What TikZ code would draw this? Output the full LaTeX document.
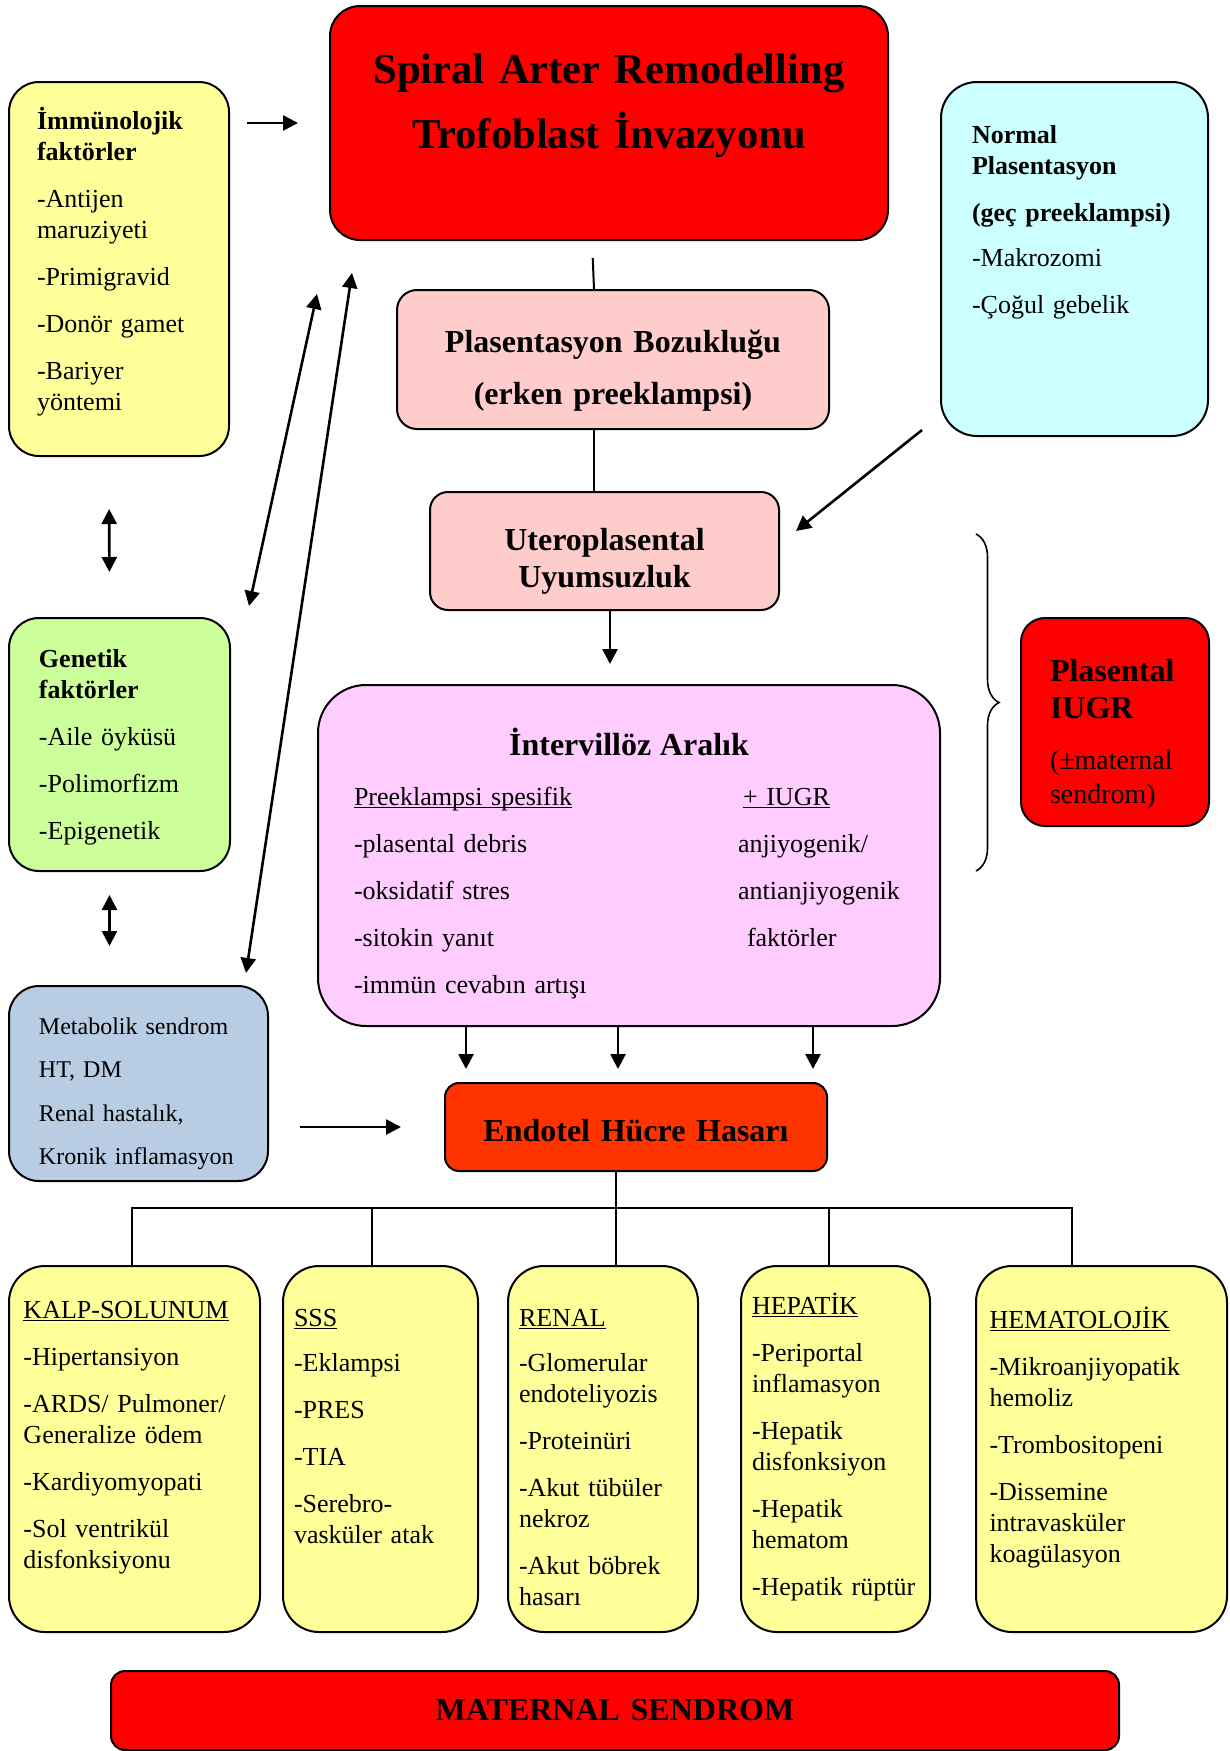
\documentclass[tikz,border=0pt]{standalone}
\usepackage{fontspec}
\setmainfont{Liberation Serif}
\usepackage{tikz}
\usetikzlibrary{positioning, arrows.meta, decorations.pathreplacing}

\definecolor{SariAcik}{RGB}{255,255,153}
\definecolor{CamGobegi}{RGB}{204,255,255}
\definecolor{Pembe}{RGB}{255,204,204}
\definecolor{YesilAcik}{RGB}{204,255,153}
\definecolor{Eflatun}{RGB}{255,204,255}
\definecolor{GriMavi}{RGB}{184,204,228}
\definecolor{Turuncu}{RGB}{255,51,0}
\definecolor{Kirmizi}{RGB}{255,0,0}

\newcommand{\govde}{\fontsize{13}{15.5}\selectfont}
\newcommand{\ulin}[1]{\underline{\smash{#1}}}
\hyphenpenalty=10000
\exhyphenpenalty=10000

\begin{document}
\begin{tikzpicture}[
  x=0.5pt, y=-0.5pt,
  %% kutu: metin üstten hizali (text height/depth ile)
  kutu/.style={rectangle, draw=black, line width=1pt, fill=#1,
               inner ysep=0pt, align=left, font=\govde},
  baslik/.style={kutu=#1, inner xsep=0pt, align=center,
                 font=\fontsize{16}{18.4}\selectfont\bfseries},
  alt/.style={kutu=SariAcik, rounded corners=18pt, inner xsep=5.5pt,
              text height=30pt, text depth=153pt},
  ok/.style={-{Triangle[length=7.5pt, width=7.5pt]}, line width=1.3pt},
  ciftok/.style={{Triangle[length=7.5pt, width=7.5pt]}-{Triangle[length=7.5pt, width=7.5pt]},
                 line width=1.3pt},
  cizgi/.style={line width=1pt}
]
\useasboundingbox (0,0) rectangle (1230,1751);

%% ── Ust sira ─────────────────────────────────────────────────────────────
\node[baslik=Kirmizi, rounded corners=15pt, text width=279pt,
      text height=38.5pt, text depth=78.5pt,
      font=\fontsize{21.3}{32.5}\selectfont\bfseries] (spiral) at (609,123)
  {Spiral Arter Remodelling\\Trofoblast İnvazyonu};

\node[kutu=SariAcik, rounded corners=15pt, inner xsep=14pt, text width=82pt,
      text height=23.5pt, text depth=163.5pt] (immun) at (119,269) {%
  \textbf{İmmünolojik}\\\textbf{faktörler}\\[8pt]
  -Antijen\\maruziyeti\\[8pt]
  -Primigravid\\[8pt]
  -Donör~gamet\\[8pt]
  -Bariyer\\yöntemi%
};

\node[kutu=CamGobegi, rounded corners=18pt, inner xsep=15.5pt, text width=102.5pt,
      text height=30.5pt, text depth=146.5pt] (normal) at (1074.5,259) {%
  \textbf{Normal}\\\textbf{Plasentasyon}\\[8pt]
  \textbf{(geç~preeklampsi)}\\[7pt]
  -Makrozomi\\[8pt]
  -Çoğul~gebelik%
};

%% ── Orta kolon ───────────────────────────────────────────────────────────
\node[baslik=Pembe, rounded corners=10pt, text width=216pt,
      text height=31pt, text depth=38.5pt,
      font=\fontsize{16}{26}\selectfont\bfseries] (bozuk) at (613,359.5)
  {Plasentasyon Bozukluğu\\(erken preeklampsi)};

\node[baslik=Pembe, rounded corners=9pt, text width=174.5pt,
      text height=29.3pt, text depth=29.7pt] (utero) at (604.5,551)
  {Uteroplasental\\Uyumsuzluk};

\node[kutu=Eflatun, rounded corners=24pt, inner xsep=18pt, text width=275pt,
      text height=35pt, text depth=135.5pt,
      font=\fontsize{13}{23.5}\selectfont] (interv) at (629,855.5) {%
  \makebox[\linewidth]{\fontsize{16}{18}\selectfont\bfseries İntervillöz Aralık}\\[1.5pt]
  \makebox[192pt][l]{\ulin{Preeklampsi spesifik}}\hspace{2.5pt}\ulin{+ IUGR}\\
  \makebox[192pt][l]{-plasental debris}anjiyogenik/\\
  \makebox[192pt][l]{-oksidatif stres}antianjiyogenik\\
  \makebox[192pt][l]{-sitokin yanıt}\hspace{4.5pt}faktörler\\
  -immün cevabın artışı%
};

\node[baslik=Turuncu, rounded corners=7pt, text width=191pt,
      text height=29pt, text depth=15pt] (endotel) at (636,1127)
  {Endotel Hücre Hasarı};

%% ── Sol kolon ────────────────────────────────────────────────────────────
\node[kutu=YesilAcik, rounded corners=15pt, inner xsep=15pt, text width=80.5pt,
      text height=24.5pt, text depth=102pt] (genetik) at (119.5,744.5) {%
  \textbf{Genetik}\\\textbf{faktörler}\\[8pt]
  -Aile~öyküsü\\[8pt]
  -Polimorfizm\\[8pt]
  -Epigenetik%
};

\node[kutu=GriMavi, rounded corners=15pt, inner xsep=15pt, text width=99.5pt,
      text height=24pt, text depth=73.5pt,
      font=\fontsize{12}{21.8}\selectfont] (metab) at (138.5,1083.5) {%
  Metabolik~sendrom\\HT, DM\\Renal~hastalık,\\Kronik~inflamasyon%
};

%% ── Sag kolon ────────────────────────────────────────────────────────────
\node[kutu=Kirmizi, rounded corners=12pt, inner xsep=14.5pt, text width=65pt,
      text height=31.5pt, text depth=72.5pt,
      font=\fontsize{14}{17}\selectfont] (iugr) at (1115,722) {%
  {\fontsize{16}{18}\selectfont\bfseries Plasental}\\[1.5pt]
  {\fontsize{16}{18}\selectfont\bfseries IUGR}\\[8.5pt]
  (±maternal\\sendrom)%
};

\draw[line width=0.8pt, decorate, decoration={brace, amplitude=11.5pt}]
  (976,534) -- (976,871);

%% ── Organ kutulari ───────────────────────────────────────────────────────
\node[alt, inner xsep=7.25pt, text width=111pt,
      text height=26pt, text depth=157pt] (kalp) at (134.5,1449) {%
  \ulin{KALP-SOLUNUM}\\[8pt]
  -Hipertansiyon\\[8pt]
  -ARDS/~Pulmoner/\\Generalize~ödem\\[8pt]
  -Kardiyomyopati\\[8pt]
  -Sol~ventrikül\\disfonksiyonu%
};

\node[alt, text width=86.5pt, right=10.5pt of kalp] (sss) {%
  \ulin{SSS}\\[7pt]
  -Eklampsi\\[8pt]
  -PRES\\[8pt]
  -TIA\\[8pt]
  -Serebro-\\vasküler~atak%
};

\node[alt, text width=84pt, right=14pt of sss] (renal) {%
  \ulin{RENAL}\\[7pt]
  -Glomerular\\endoteliyozis\\[8pt]
  -Proteinüri\\[8pt]
  -Akut~tübüler\\nekroz\\[8pt]
  -Akut~böbrek\\hasarı%
};

\node[alt, text width=83.5pt, text height=24pt, text depth=159pt,
      right=20.5pt of renal] (hepatik) {%
  \ulin{HEPATİK}\\[8pt]
  -Periportal\\inflamasyon\\[8pt]
  -Hepatik\\disfonksiyon\\[8pt]
  -Hepatik\\hematom\\[8pt]
  -Hepatik~rüptür%
};

\node[alt, inner xsep=6.75pt, text width=112pt, text height=31pt, text depth=152pt,
      right=22pt of hepatik] (hemato) {%
  \ulin{HEMATOLOJİK}\\[8pt]
  -Mikroanjiyopatik\\hemoliz\\[8pt]
  -Trombositopeni\\[8pt]
  -Dissemine\\intravasküler\\koagülasyon%
};

\node[baslik=Kirmizi, rounded corners=7pt, text width=504pt,
      text height=24.5pt, text depth=15pt] (maternal) at (615,1710.5)
  {MATERNAL SENDROM};

%% ── Oklar ────────────────────────────────────────────────────────────────
\draw[ok, shorten <=8.5pt, shorten >=15.5pt] (immun.east |- spiral.west) -- (spiral.west);
\draw[ciftok, shorten <=26pt, shorten >=22.5pt]
  ([xshift=-5pt]immun.south) -- ([xshift=-5pt]genetik.north);
\draw[ciftok, shorten <=11.5pt, shorten >=19.5pt]
  ([xshift=-5pt]genetik.south) -- ([xshift=-5pt]genetik.south |- metab.north);
\draw[ciftok] ([shift={(9pt,5.5pt)}]genetik.north east)
  -- ([shift={(-6pt,-26.5pt)}]spiral.south west);
\draw[ciftok] ([shift={(-11.5pt,6pt)}]metab.north east)
  -- ([shift={(11.5pt,-16pt)}]spiral.south west);

\draw[cizgi, shorten <=8.5pt] ([xshift=-8.5pt]spiral.south) -- ([xshift=-9.5pt]bozuk.north);
\draw[cizgi] ([xshift=-9.5pt]bozuk.south) -- ([xshift=-5.25pt]utero.north);
\draw[ok] ([shift={(-9pt,3.5pt)}]normal.south west) -- ([shift={(8pt,-20pt)}]utero.north east);
\draw[ok, shorten >=10pt] ([xshift=2.75pt]utero.south) -- ([xshift=2.75pt]utero.south |- interv.north);

\foreach \dx in {-81.5,-5.5,92}
  \draw[ok, shorten >=6.5pt] ([xshift=\dx pt]interv.south) -- ([xshift=\dx pt]interv.south |- endotel.north);
\draw[ok, shorten <=15.5pt, shorten >=21.5pt] (metab.east |- endotel.west) -- (endotel.west);

%% ── Agac baglantisi ──────────────────────────────────────────────────────
\draw[cizgi] ([xshift=-10pt]endotel.south) -- ++(0,-18pt) coordinate (dal);
\draw[cizgi] ([xshift=-1.25pt]kalp.north) |- (dal) -| ([xshift=-14.75pt]hemato.north);
\foreach \b/\dx in {sss/-4.25, renal/6.5, hepatik/-3.25}
  \draw[cizgi] ([xshift=\dx pt]\b.north) -- ([xshift=\dx pt]\b.north |- dal);

\end{tikzpicture}
\end{document}
